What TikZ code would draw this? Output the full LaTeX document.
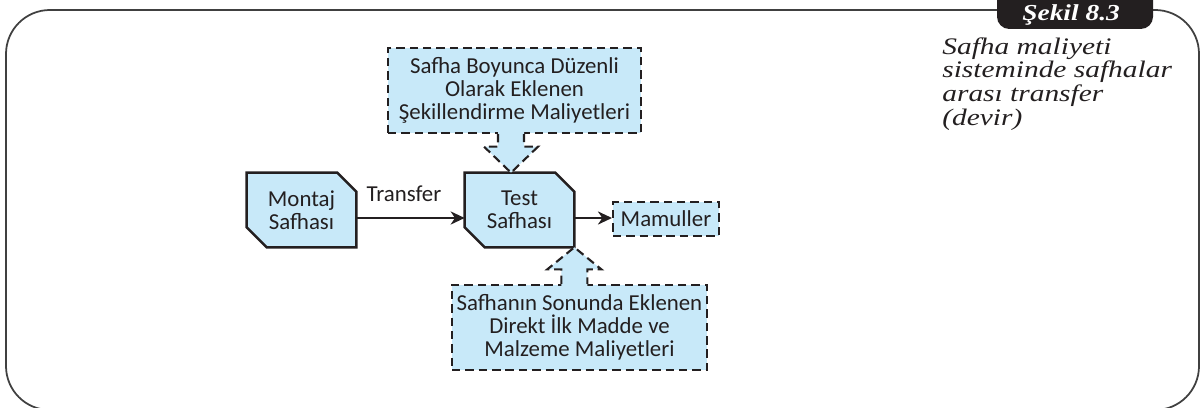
\documentclass[tikz,border=0pt]{standalone}
\usepackage{fontspec}
\usetikzlibrary{arrows.meta,backgrounds}
\newfontfamily\boxfont{Carlito}
\newfontfamily\capfont{Liberation Serif}
\definecolor{paleblue}{RGB}{200,233,249}
\definecolor{ink}{RGB}{35,31,32}

% outline of a stage box: chamfered top-right and bottom-left corners
\newcommand\stageoutline[1]{%
  \path[stageedge] (#1.north west) -- ([shift={(-19,0)}]#1.north east)
    -- ([shift={(0,19)}]#1.north east) -- (#1.south east)
    -- ([shift={(20,0)}]#1.south west) -- ([shift={(0,-20)}]#1.south west) -- cycle;}

\begin{document}
\begin{tikzpicture}[x=0.02cm, y=-0.02cm,
  boxtext/.style={font=\boxfont\fontsize{13}{13}\selectfont, text=ink, align=center, inner sep=0pt},
  stage/.style={boxtext, minimum width=2.18cm, minimum height=1.48cm},
  costbox/.style={boxtext, draw=ink, fill=paleblue, line width=1.2pt,
    dash pattern=on 4.8pt off 2.8pt, minimum height=1.7cm},
  stageedge/.style={draw=ink, fill=paleblue, line width=1.4pt, line join=miter},
  flow/.style={draw=ink, line width=1.1pt, -{Stealth[length=8pt,width=7.5pt,inset=2.5pt]}},
  blockedge/.style={draw=ink, line width=1.2pt, dash pattern=on 4.8pt off 2.8pt},
  frameline/.style={draw=black!75, line width=1pt, rounded corners=25pt},
  tabtext/.style={font=\capfont\bfseries\itshape\fontsize{13}{13}\selectfont, text=white, inner sep=0pt},
  captext/.style={font=\capfont\itshape\fontsize{13.5}{13.5}\selectfont, text=ink, inner sep=0pt}
]
\useasboundingbox (0,0) rectangle (1203,408);

% page frame and title tab
\draw[frameline] (997,10) -- (6,10) -- (6,410) -- (1199,410) -- (1199,10) -- (1153,10);
\fill[ink, rounded corners=7pt] (997,-14) rectangle (1153,29);
\node[tabtext, anchor=base west] (tabtitle) at (1022,21)
  {\scalebox{1.2}[1]{Şekil 8.3}};
\node[captext, anchor=north west] (caption) at (942,37)
  {\scalebox{1.24}[1]{\begin{tabular}{@{}l@{}}Safha maliyeti\\sisteminde safhalar\\arası transfer\\(devir)\end{tabular}}};

% stages
\node[stage] (montaj) at (301.5,210) {Montaj\\Safhası};
\node[stage] (test) at (519.5,210) {Test\\Safhası};
\begin{scope}[on background layer]
  \stageoutline{montaj}
  \stageoutline{test}
\end{scope}

% cost boxes and output
\node[costbox, minimum width=5.06cm] (shaping) at (514.5,90.5)
  {Safha Boyunca Düzenli\\Olarak Eklenen\\Şekillendirme Maliyetleri};
\node[costbox, minimum width=5.1cm] (material) at (579.5,327.5)
  {Safhanın Sonunda Eklenen\\Direkt İlk Madde ve\\Malzeme Maliyetleri};
\node[costbox, minimum width=2.12cm, minimum height=0.68cm] (output) at (666,219) {Mamuller};

% flow arrows
\draw[flow] ([shift={(0,8)}]montaj.east) -- ([shift={(0,8)}]test.west)
  node[pos=0.44, anchor=base, yshift=9.6pt, boxtext] (transferlabel) {Transfer};
\coordinate (outstart) at ([shift={(0,8)}]test.east);
\draw[flow] (outstart) -- (outstart -| output.west);

% block arrow from the shaping costs down into the test stage
\coordinate (dtip) at ([shift={(-8.5,0)}]test.north);
\coordinate (dL) at ([shift={(-13,-26)}]dtip);
\coordinate (dR) at ([shift={(13,-26)}]dtip);
\coordinate (dLL) at ([shift={(-27,-26)}]dtip);
\coordinate (dRR) at ([shift={(27,-26)}]dtip);
\coordinate (dLt) at (dL |- shaping.south);
\coordinate (dRt) at (dR |- shaping.south);
\fill[paleblue] (dtip) -- (dLL) -- (dL) -- ([yshift=1.2pt]dLt) -- ([yshift=1.2pt]dRt) -- (dR) -- (dRR) -- cycle;
\draw[blockedge] (dLt) -- (dL) -- (dLL) -- (dtip) -- (dRR) -- (dR) -- (dRt);

% block arrow from the material costs up into the test stage
\coordinate (utip) at (test.south east);
\coordinate (uL) at ([shift={(-13,22)}]utip);
\coordinate (uR) at ([shift={(13,22)}]utip);
\coordinate (uLL) at ([shift={(-27,22)}]utip);
\coordinate (uRR) at ([shift={(27,22)}]utip);
\coordinate (uLb) at (uL |- material.north);
\coordinate (uRb) at (uR |- material.north);
\fill[paleblue] (utip) -- (uLL) -- (uL) -- ([yshift=-1.2pt]uLb) -- ([yshift=-1.2pt]uRb) -- (uR) -- (uRR) -- cycle;
\draw[blockedge] (uLb) -- (uL) -- (uLL) -- (utip) -- (uRR) -- (uR) -- (uRb);
\end{tikzpicture}
\end{document}
